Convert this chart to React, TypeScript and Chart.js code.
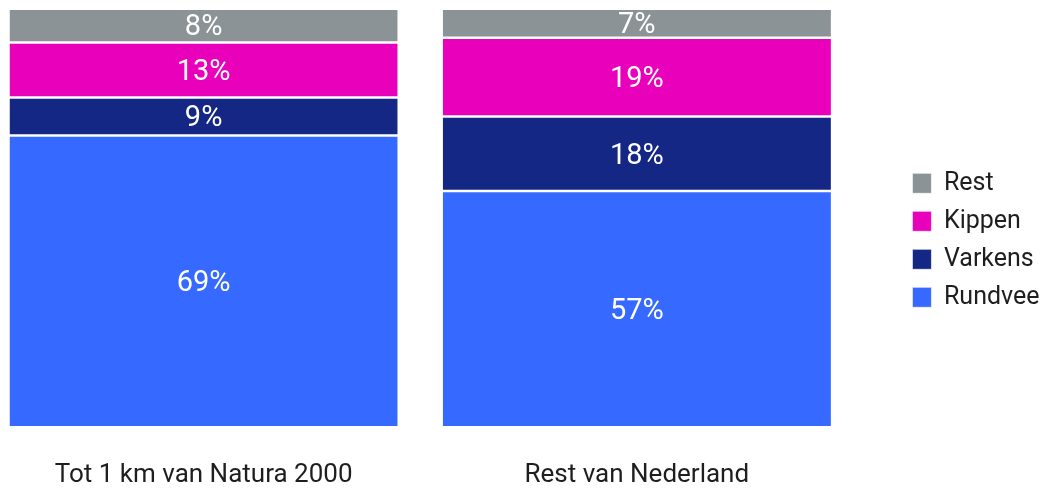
import { useEffect, useRef } from 'react';
import { Chart, registerables } from 'chart.js';

Chart.register(...registerables);

const categories = ['Tot 1 km van Natura 2000', 'Rest van Nederland'];
const seriesNames = ['Rundvee', 'Varkens', 'Kippen', 'Rest'];
const rundvee = [69, 57];
const varkens = [9, 18];
const kippen = [13, 19];
const rest = [8, 7];
const seriesValues = [rundvee, varkens, kippen, rest];
const seriesColors = ['#3669ff', '#152784', '#e900bb', '#8b9397'];

const totals = categories.map((_, j) => seriesValues.reduce((s, arr) => s + arr[j], 0));

const valueLabels = {
  id: 'valueLabels',
  afterLayout(chart: any) {
    // let the category labels extend below the (compact) x-axis box without clipping
    const x = chart.scales.x;
    if (x) x.bottom = chart.height;
  },
  afterDatasetsDraw(chart: any) {
    const ctx = chart.ctx;
    ctx.save();
    ctx.font = '29px Roboto';
    ctx.fillStyle = '#ffffff';
    ctx.textAlign = 'center';
    ctx.textBaseline = 'middle';
    chart.data.datasets.forEach((_ds: any, i: number) => {
      const meta = chart.getDatasetMeta(i);
      meta.data.forEach((el: any, j: number) => {
        const { x, y, base } = el.getProps(['x', 'y', 'base'], true);
        ctx.fillText(seriesValues[i][j] + '%', x, (y + base) / 2 + 2.5);
      });
    });
    ctx.restore();
  },
};

export default function App() {
  const ref = useRef<HTMLCanvasElement>(null);
  useEffect(() => {
    if (!ref.current) return;
    Chart.defaults.font.family = 'Roboto';
    const chart = new Chart(ref.current, {
      type: 'bar',
      data: {
        labels: categories,
        datasets: seriesNames.map((name, i) => ({
          label: name,
          data: seriesValues[i].map((v, j) => (v / totals[j]) * 100),
          backgroundColor: seriesColors[i],
          borderColor: '#ffffff',
          borderWidth: { top: 1.25, bottom: 1.25, left: 0, right: 0 },
          borderSkipped: false,
          categoryPercentage: 1,
          barPercentage: 0.896,
        })),
      },
      options: {
        animation: false,
        responsive: true,
        maintainAspectRatio: false,
        layout: { padding: { top: 8.75, bottom: 19.15, left: 0, right: 1.5 } },
        plugins: {
          legend: {
            position: 'right',
            reverse: true,
            labels: {
              boxWidth: 19,
              boxHeight: 20,
              padding: 13,
              color: '#1e1e1e',
              font: { size: 25, family: 'Roboto' },
            },
          },
          tooltip: { enabled: false },
        },
        scales: {
          x: {
            stacked: true,
            grid: { display: false, drawTicks: false },
            border: { display: false },
            ticks: {
              color: '#1e1e1e',
              padding: 32.5,
              font: { size: 26, family: 'Roboto' },
              maxRotation: 0,
            },
            afterFit: (scale: any) => {
              scale.height = 44.6;
            },
          },
          y: {
            stacked: true,
            position: 'right',
            min: 0,
            max: 100,
            grid: { display: false, drawTicks: false },
            border: { display: false },
            ticks: { display: false },
            afterFit: (scale: any) => {
              scale.width = 46;
            },
          },
        },
      },
      plugins: [valueLabels],
    });
    return () => chart.destroy();
  }, []);
  return (
    <div style={{ position: 'absolute', left: -13, top: 0, width: 1064, height: 491 }}>
      <canvas ref={ref} />
    </div>
  );
}
